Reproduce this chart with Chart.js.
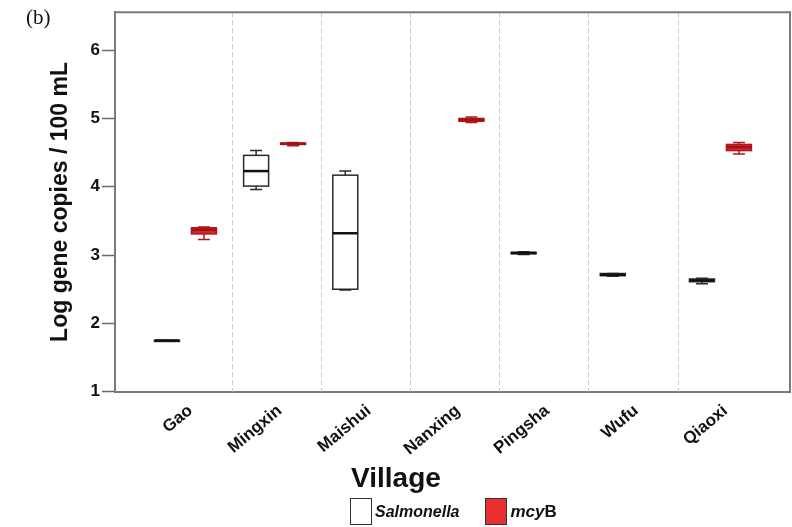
<!DOCTYPE html>
<html><head><meta charset="utf-8">
<script src="https://cdn.jsdelivr.net/npm/chart.js@4.4.1/dist/chart.umd.min.js"></script>
<style>
html,body{margin:0;padding:0;background:#fff}
body{width:792px;height:527px;overflow:hidden;position:relative;font-family:"Liberation Sans",Arial,sans-serif}
#wrap{position:absolute;left:0;top:0;width:792px;height:527px}
#lab{position:absolute;left:26px;top:5px;font-family:"Liberation Serif","Times New Roman",serif;font-size:21px;color:#111}
#xt{position:absolute;left:0;width:792px;top:462px;text-align:center;font-weight:bold;font-size:28px;color:#111}
#legend{position:absolute;left:350px;top:498px;display:flex;align-items:center;font-weight:bold;font-size:16px;color:#111}
.sw{width:20px;height:25px;border:1.5px solid #333;margin-right:3px}
</style></head><body>
<div id="wrap"><canvas id="c" width="792" height="527"></canvas></div>
<div id="lab">(b)</div>
<div id="xt">Village</div>
<div id="legend">
  <span class="sw" style="background:#fff"></span><span style="font-style:italic">Salmonella</span>
  <span class="sw" style="background:#e8302f;margin-left:26px"></span><span style="font-size:17px"><i>mcy</i>B</span>
</div>
<script>
const villages = ["Gao","Mingxin","Maishui","Nanxing","Pingsha","Wufu","Qiaoxi"];
// each entry: [min, q1, median, q3, max]; null = no data
const salmonella = [
  [1.75,1.75,1.75,1.75,1.75],
  [3.96,4.01,4.23,4.46,4.53],
  [2.49,2.50,3.32,4.17,4.23],
  null,
  [3.01,3.02,3.03,3.04,3.05],
  [2.69,2.70,2.71,2.73,2.73],
  [2.58,2.61,2.63,2.65,2.66]
];
const mcyB = [
  [3.23,3.31,3.37,3.40,3.41],
  [4.60,4.62,4.63,4.64,4.65],
  null,
  [4.94,4.96,4.98,5.00,5.02],
  null,
  null,
  [4.48,4.53,4.58,4.62,4.65]
];
const yTicks = [1,2,3,4,5,6];

const series = [
  {label:"Salmonella", stats:salmonella, offset:-0.2075, fill:"#ffffff", stroke:"#2a2a2a", median:"#111111"},
  {label:"mcyB", stats:mcyB, offset:0.2075, fill:"#dc2329", stroke:"#b0161b", median:"#9e1217"}
];

const boxPlugin = {
  id:"boxes",
  beforeDatasetsDraw(chart){
    const {ctx, chartArea:a, scales:{x}} = chart;
    ctx.save();
    ctx.strokeStyle = "#c9c9c9";
    ctx.lineWidth = 1;
    ctx.setLineDash([5,3]);
    for (let i = 0; i < villages.length - 1; i++){
      const px = Math.round(x.getPixelForValue(i + 0.52)) + 0.5;
      ctx.beginPath(); ctx.moveTo(px, a.top); ctx.lineTo(px, a.bottom); ctx.stroke();
    }
    ctx.restore();
  },
  afterDatasetsDraw(chart){
    const {ctx, scales:{x, y}} = chart;
    const halfW = 12.5, capW = 6;
    ctx.save();
    series.forEach(s => {
      s.stats.forEach((st, i) => {
        if (!st) return;
        const cx = x.getPixelForValue(i + s.offset);
        const [mn, q1, md, q3, mx] = st.map(v => y.getPixelForValue(v));
        ctx.strokeStyle = s.stroke;
        ctx.lineWidth = 1.5;
        ctx.beginPath();
        ctx.moveTo(cx, q3); ctx.lineTo(cx, mx);
        ctx.moveTo(cx - capW, mx); ctx.lineTo(cx + capW, mx);
        ctx.moveTo(cx, q1); ctx.lineTo(cx, mn);
        ctx.moveTo(cx - capW, mn); ctx.lineTo(cx + capW, mn);
        ctx.stroke();
        ctx.fillStyle = s.fill;
        const h = Math.max(q1 - q3, 1);
        ctx.fillRect(cx - halfW, q3, halfW * 2, h);
        ctx.strokeRect(cx - halfW, q3, halfW * 2, h);
        ctx.strokeStyle = s.median;
        ctx.lineWidth = 2.5;
        ctx.beginPath(); ctx.moveTo(cx - halfW, md); ctx.lineTo(cx + halfW, md); ctx.stroke();
      });
    });
    ctx.restore();
  },
  afterDraw(chart){
    const {ctx, chartArea:a} = chart;
    ctx.save();
    ctx.strokeStyle = "#7a7a7a";
    ctx.lineWidth = 2;
    ctx.beginPath();
    ctx.moveTo(a.left, a.top); ctx.lineTo(a.right, a.top); ctx.lineTo(a.right, a.bottom);
    ctx.stroke();
    ctx.restore();
  }
};

const datasets = series.map(s => ({
  label: s.label,
  data: s.stats.map((st, i) => st ? {x: i + s.offset, y: st[2]} : null).filter(p => p),
  pointRadius: 0, pointHoverRadius: 0, showLine: false
}));

new Chart(document.getElementById("c"), {
  type: "scatter",
  data: {datasets},
  plugins: [boxPlugin],
  options: {
    responsive: false,
    animation: false,
    events: [],
    layout: {padding: {top: 10, right: 2, left: 0, bottom: 0}},
    plugins: {legend: {display: false}, tooltip: {enabled: false}},
    scales: {
      x: {
        type: "linear", min: -0.79, max: 6.78,
        afterBuildTicks: s => { s.ticks = villages.map((_, i) => ({value: i})); },
        afterFit: s => { s.height = 135.3; },
        ticks: {
          callback: v => villages[v],
          autoSkip: false, minRotation: 40, maxRotation: 40,
          font: {family: "Liberation Sans", weight: "bold", size: 17},
          color: "#111", padding: 9, labelOffset: 5
        },
        grid: {drawOnChartArea: false, drawTicks: false},
        border: {color: "#7a7a7a", width: 2}
      },
      y: {
        min: 1, max: 6.556,
        afterBuildTicks: s => { s.ticks = yTicks.map(v => ({value: v})); },
        afterFit: s => { s.width = 115; },
        ticks: {font: {family: "Liberation Sans", weight: "bold", size: 17}, color: "#111", padding: 2},
        grid: {drawOnChartArea: false, drawTicks: true, tickLength: 13, tickColor: "#6a6a6a", tickWidth: 1.5},
        border: {color: "#7a7a7a", width: 2},
        title: {display: true, text: "Log gene copies / 100 mL", color: "#111",
                font: {family: "Liberation Sans", weight: "bold", size: 23}, padding: {top: 47, bottom: 0}}
      }
    }
  }
});
</script>
</body></html>
